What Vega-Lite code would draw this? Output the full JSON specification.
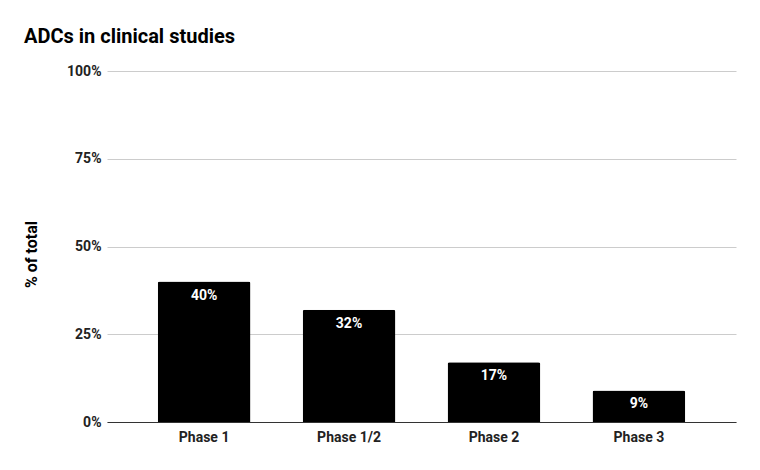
{
  "$schema": "https://vega.github.io/schema/vega-lite/v6.json",
  "width": 629,
  "height": 351,
  "autosize": {"type": "none"},
  "padding": {"left": 107, "top": 71, "right": 24, "bottom": 48},
  "background": "white",
  "title": {
    "text": "ADCs in clinical studies",
    "anchor": "start",
    "frame": "group",
    "dx": -83,
    "offset": 17,
    "font": "Roboto",
    "fontSize": 20,
    "fontWeight": "bold",
    "color": "#000000"
  },
  "config": {
    "view": {"stroke": null},
    "font": "Roboto"
  },
  "data": {
    "values": [
      {"phase": "Phase 1", "pct": 40, "label": "40%"},
      {"phase": "Phase 1/2", "pct": 32, "label": "32%"},
      {"phase": "Phase 2", "pct": 17, "label": "17%"},
      {"phase": "Phase 3", "pct": 9, "label": "9%"}
    ]
  },
  "encoding": {
    "x": {
      "field": "phase",
      "type": "nominal",
      "sort": null,
      "scale": {"paddingInner": 0.36, "paddingOuter": 0.35},
      "axis": {
        "title": null,
        "labelAngle": 0,
        "labelFont": "Roboto",
        "labelFontWeight": "bold",
        "labelFontSize": 14,
        "labelColor": "#222222",
        "labelPadding": 8,
        "ticks": false,
        "domainColor": "#333333",
        "domainWidth": 1
      }
    },
    "y": {
      "field": "pct",
      "type": "quantitative",
      "scale": {"domain": [0, 100]},
      "axis": {
        "title": "% of total",
        "titleFont": "Roboto",
        "titleFontWeight": "bold",
        "titleFontSize": 16,
        "titleColor": "#000000",
        "titleX": -68,
        "titleY": 183,
        "values": [0, 25, 50, 75, 100],
        "labelExpr": "datum.value + '%'",
        "labelFont": "Roboto",
        "labelFontWeight": "bold",
        "labelFontSize": 14,
        "labelColor": "#222222",
        "labelPadding": 6,
        "ticks": false,
        "domain": false,
        "gridColor": "#cccccc"
      }
    }
  },
  "layer": [
    {
      "mark": {"type": "bar", "color": "#000000", "cornerRadiusTopLeft": 2, "cornerRadiusTopRight": 2}
    },
    {
      "mark": {"type": "text", "color": "#ffffff", "font": "Roboto", "fontWeight": "bold", "fontSize": 14, "baseline": "top", "dy": 7},
      "encoding": {"text": {"field": "label"}}
    }
  ]
}
